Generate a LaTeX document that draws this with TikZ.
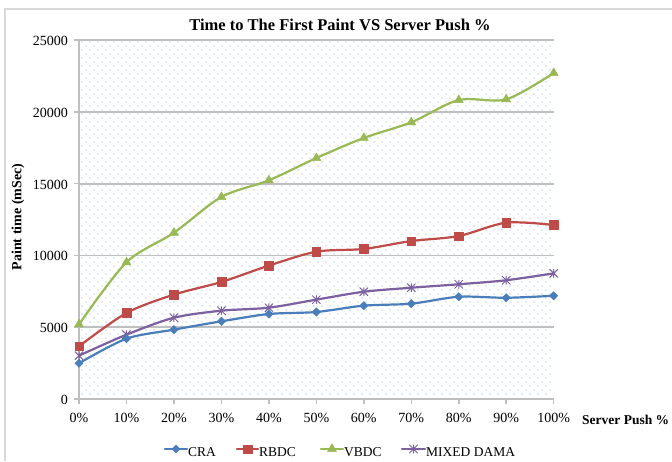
\documentclass[tikz,border=0pt]{standalone}
\usepackage{fontspec}
\setmainfont{Liberation Serif}
\usetikzlibrary{plotmarks}
\definecolor{cra}{RGB}{74,126,187}
\definecolor{rbdc}{RGB}{190,75,72}
\definecolor{vbdc}{RGB}{152,185,84}
\definecolor{mixd}{RGB}{125,96,160}
\definecolor{gridc}{RGB}{191,191,191}
\definecolor{framec}{RGB}{217,217,217}
\definecolor{dotc}{RGB}{130,175,228}
\pgfdeclareplotmark{rdiamond}{%
  \pgfpathmoveto{\pgfqpoint{0pt}{\pgfplotmarksize}}%
  \pgfpathlineto{\pgfqpoint{\pgfplotmarksize}{0pt}}%
  \pgfpathlineto{\pgfqpoint{0pt}{-\pgfplotmarksize}}%
  \pgfpathlineto{\pgfqpoint{-\pgfplotmarksize}{0pt}}%
  \pgfpathclose\pgfusepathqfillstroke}
\pgfdeclareplotmark{xstar}{%
  \pgfpathmoveto{\pgfqpoint{-\pgfplotmarksize}{-\pgfplotmarksize}}%
  \pgfpathlineto{\pgfqpoint{\pgfplotmarksize}{\pgfplotmarksize}}%
  \pgfpathmoveto{\pgfqpoint{-\pgfplotmarksize}{\pgfplotmarksize}}%
  \pgfpathlineto{\pgfqpoint{\pgfplotmarksize}{-\pgfplotmarksize}}%
  \pgfpathmoveto{\pgfqpoint{0pt}{-\pgfplotmarksize}}%
  \pgfpathlineto{\pgfqpoint{0pt}{\pgfplotmarksize}}%
  \pgfusepathqstroke}
\tikzset{
  dotrow/.style={dotc, line width=1.3pt, line cap=round, dash pattern=on 0pt off 8pt},
  gridline/.style={gridc, line width=1.8pt},
  axisline/.style={gridc, line width=1.5pt},
  ticklbl/.style={font=\fontsize{14}{16}\selectfont, inner sep=0pt},
  series/.style={line width=2.2pt, line join=round, line cap=round},
  crastyle/.style={series, cra, mark=rdiamond, mark size=4.2pt, mark options={fill=cra, line width=0.4pt}},
  rbdcstyle/.style={series, rbdc, mark=square*, mark size=4.3pt, mark options={fill=rbdc, line width=0.4pt}},
  vbdcstyle/.style={series, vbdc, mark=triangle*, mark size=5.2pt, mark options={fill=vbdc, line width=0.4pt}},
  mixstyle/.style={series, mixd, mark=xstar, mark size=4pt, mark options={line width=1pt}},
  legtext/.style={font=\fontsize{13.5}{16}\selectfont, anchor=base west, inner sep=0pt}
}
\begin{document}
\begin{tikzpicture}[x=1pt,y=-1pt]
\useasboundingbox (0,0) rectangle (672,461);
\fill[white] (0,0) rectangle (672,461);
\draw[framec, line width=1.2pt] (5,461) -- (5,9) -- (672,9);
% dotted background of the plot area
\foreach \r in {0,...,88}{
  \pgfmathsetmacro\ry{42+4*\r}
  \pgfmathsetmacro\rx{mod(\r,2)==0 ? 82 : 86}
  \draw[dotrow] (\rx,\ry) -- (553,\ry);
}
% title
\node[font=\bfseries\fontsize{16.5}{19}\selectfont, anchor=base, inner sep=0pt] (title) at (340,30) {Time to The First Paint VS Server Push \%};
\node[font=\bfseries\fontsize{14}{16}\selectfont, rotate=90, inner sep=0pt] (ylab) at (18,217) {Paint time (mSec)};
\node[font=\bfseries\fontsize{13.5}{16}\selectfont, anchor=base west, inner sep=0pt] (xlab) at (582,424) {Server Push \%};
\begin{scope}[shift={(79pt,-399pt)}, x=47.47pt, y=14.36pt]
  \foreach \v in {5,10,...,25} \draw[gridline] (0,\v) -- (10,\v);
  \draw[axisline] (0,25) -- (0,0) -- (10,0);
  \foreach \v/\t in {0/0,5/5000,10/10000,15/15000,20/20000,25/25000}{
    \draw[axisline] (0,\v) -- ++(-5pt,0);
    \node[ticklbl, anchor=base east] (yt\v) at ([xshift=-11pt,yshift=-5.5pt]0,\v) {\t};
  }
  \foreach \i in {0,...,10}{
    \pgfmathtruncatemacro\p{\i*10}
    \draw[axisline] (\i,0) -- ++(0,-5pt);
    \node[ticklbl, anchor=base] (xt\i) at ([yshift=-23pt]\i,0) {\p\%};
  }
  \draw[vbdcstyle] plot[smooth, tension=0.5] coordinates {(0,5.20) (1,9.52) (2,11.58) (3,14.07) (4,15.23) (5,16.78) (6,18.18) (7,19.27) (8,20.82) (9,20.87) (10,22.70)};
  \draw[rbdcstyle] plot[smooth, tension=0.5] coordinates {(0,3.67) (1,5.99) (2,7.27) (3,8.15) (4,9.29) (5,10.26) (6,10.45) (7,11.00) (8,11.35) (9,12.28) (10,12.12)};
  \draw[mixstyle] plot[smooth, tension=0.5] coordinates {(0,3.02) (1,4.48) (2,5.66) (3,6.15) (4,6.36) (5,6.92) (6,7.47) (7,7.75) (8,7.99) (9,8.27) (10,8.75)};
  \draw[crastyle] plot[smooth, tension=0.5] coordinates {(0,2.49) (1,4.20) (2,4.83) (3,5.41) (4,5.92) (5,6.06) (6,6.50) (7,6.64) (8,7.12) (9,7.05) (10,7.19)};
\end{scope}
% legend
\draw[crastyle, mark indices={2}] plot coordinates {(165,449) (176,449) (187,449)};
\node[legtext] (lcra) at (188,456) {CRA};
\draw[rbdcstyle, mark indices={2}] plot coordinates {(237,449) (247.5,449) (258,449)};
\node[legtext] (lrbdc) at (259,456) {RBDC};
\draw[vbdcstyle, mark indices={2}] plot coordinates {(321,449) (332,449) (343,449)};
\node[legtext] (lvbdc) at (344,456) {VBDC};
\draw[mixstyle, mark indices={2}] plot coordinates {(402,449) (413.5,449) (425,449)};
\node[legtext] (lmix) at (426,456) {MIXED DAMA};
\end{tikzpicture}
\end{document}
